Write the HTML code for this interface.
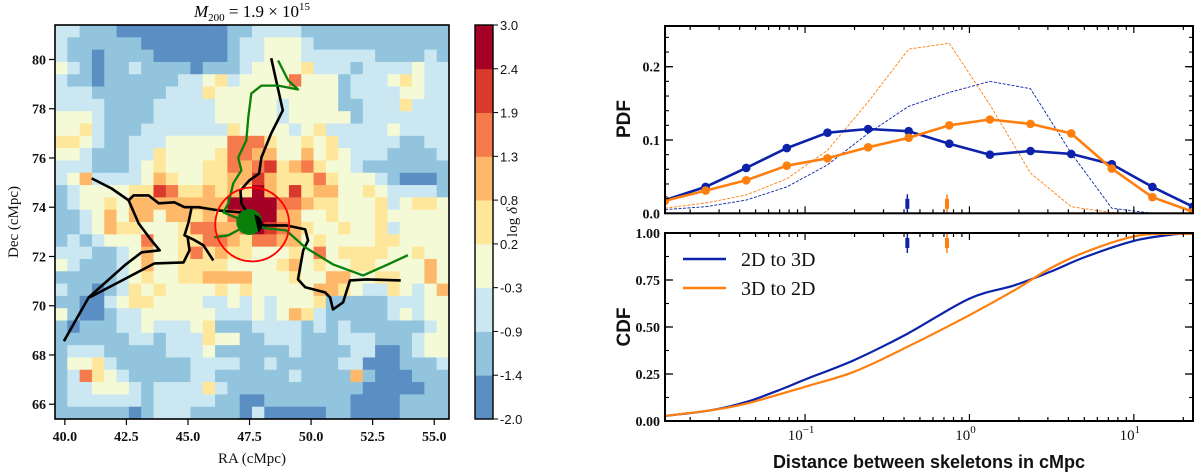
<!DOCTYPE html>
<html><head><meta charset="utf-8"><style>
html,body{margin:0;padding:0;background:#fff;}
svg{display:block;}
.tk{font-family:"Liberation Serif",serif;font-weight:bold;font-size:14px;fill:#111;}
.lab{font-family:"Liberation Serif",serif;font-size:15px;fill:#111;}
.sl{font-family:"Liberation Sans",sans-serif;font-weight:bold;fill:#111;}
</style></head><body>
<svg id="fig" width="1200" height="475" viewBox="0 0 1200 475" xmlns="http://www.w3.org/2000/svg">
<text x="252" y="463" text-anchor="middle" class="lab">RA (cMpc)</text>
<text x="0" y="0" transform="translate(18,222) rotate(-90)" text-anchor="middle" class="lab">Dec (cMpc)</text>
<text x="252" y="17" text-anchor="middle" style="font-family:'Liberation Serif',serif;font-size:17px;"><tspan font-style="italic">M</tspan><tspan font-size="11" dy="4">200</tspan><tspan dy="-4"> = 1.9 × 10</tspan><tspan font-size="11" dy="-7">15</tspan></text>
<text x="0" y="0" transform="translate(517,222) rotate(-90)" text-anchor="middle" class="lab">log <tspan font-style="italic">δ</tspan></text>
<g>
  <line x1="683" y1="259" x2="726" y2="259" stroke="#0b22a9" stroke-width="2.6"/>
  <text x="741" y="266" style="font-family:'Liberation Serif',serif;font-size:20px;fill:#111">2D to 3D</text>
  <line x1="683" y1="288" x2="726" y2="288" stroke="#ff7f0e" stroke-width="2.6"/>
  <text x="741" y="295" style="font-family:'Liberation Serif',serif;font-size:20px;fill:#111">3D to 2D</text>
</g>
<text x="0" y="0" transform="translate(630,119) rotate(-90)" text-anchor="middle" class="sl" font-size="19">PDF</text>
<text x="0" y="0" transform="translate(630,327) rotate(-90)" text-anchor="middle" class="sl" font-size="19">CDF</text>
<text x="929" y="468" text-anchor="middle" class="sl" font-size="18">Distance between skeletons in cMpc</text>
</svg>
<script>
// ---------- LEFT PANEL DATA ----------
const levelLabels = ["-2.0","-1.4","-0.9","-0.3","0.2","0.8","1.3","1.9","2.4","3.0"];
const levelColors = ["#5b8fc4","#92c4de","#cbe8f2","#f4fad6","#fee79a","#fdb86a","#f57a4c","#d93a2c","#a50026"];
const raTicks = [40,42.5,45,47.5,50,52.5,55];
const decTicks = [66,68,70,72,74,76,78,80];
const densityRows = [
"22111000000000112222111111111111",
"21111110000000122333211111111111",
"21101111000000122333222222111121",
"32101121111011123333422212222322",
"21101111112234233336333122234322",
"22211111122243333333333122223322",
"22221111222223333323333112224222",
"33321111222223333323333312222222",
"33421112222222433332342222232222",
"44321122233333666433434222221122",
"33211122433334665533534322211112",
"22211123433344656745643321111111",
"23522223543344557544464333210001",
"12333344764454548547455334322221",
"12334355555555888866544333423443",
"11235355355454688855334333433333",
"11235443334665568765433433423333",
"12123336334466546655343333443333",
"22211235334645443334363444433433",
"32111235334444333345343344333353",
"11111234334455553334335533443353",
"21101243433334343333355432243235",
"11002344333322323233341111122233",
"31001223333332223235421111123233",
"10111223222341112222121211111123",
"11111122122243311222111222111233",
"12221111122231111112111122001233",
"13342111111222211211111220001112",
"12643211111221111112111151000111",
"12233321222242111111111110000011",
"12222221222221100111111100001111",
"11111101222111102000001100001111"
];
const mapRA = [39.6, 55.6];
const mapDec = [65.4, 81.4];
const blackNorthRA = [48.38,48.85,48.38,47.98,47.89,47.49,47.13,47.17,47.45];
const blackNorthDec = [80.05,77.93,77.0,76.02,75.37,75.09,74.68,74.16,73.71];
const blackWestRA = [41.09,41.90,42.59,42.79,43.40,43.81,44.45,44.86,45.43,46.23,47.17];
const blackWestDec = [75.17,74.76,74.28,74.48,74.48,74.16,74.20,74.0,74.0,73.87,73.79];
const blackLoopRA = [42.59,43.0,43.52,43.85,43.12,42.43,40.97,39.96];
const blackLoopDec = [74.28,73.34,72.65,72.25,72.17,71.64,70.34,68.56];
const blackS2RA = [45.14,45.02,44.86,45.22,45.63,45.95,46.03];
const blackS2Dec = [73.95,73.38,72.86,72.69,72.45,71.96,71.84];
const blackS3RA = [44.98,45.06,44.82,43.64,41.01];
const blackS3Dec = [72.82,72.25,71.76,71.72,70.34];
const blackEastRA = [47.65,48.99,49.76,49.88,49.68,49.47,49.76,50.57,50.77,50.89,51.30,51.58,52.23,53.64];
const blackEastDec = [73.26,73.26,73.10,72.65,72.25,71.07,70.75,70.54,70.34,69.85,70.14,71.03,71.07,71.03];
const greenNorthRA = [48.66,49.07,49.47,48.66,47.98,47.57,47.45,47.37,47.04,47.17,46.84,46.64,46.44,47.45];
const greenNorthDec = [79.96,79.15,78.78,78.94,78.94,78.62,77.65,76.71,76.02,75.50,74.97,74.16,73.79,73.38];
const greenWestRA = [46.07,46.64,47.17,47.45];
const greenWestDec = [72.78,72.86,73.14,73.38];
const greenEastRA = [47.45,48.18,48.99,49.76,50.89,52.11,53.04,53.93];
const greenEastDec = [73.38,73.14,73.06,72.37,71.68,71.23,71.64,72.05];
const haloRA = [47.61], haloDec = [73.30], haloR = [1.5];

// ---------- RIGHT PANEL DATA ----------
const xLogMin = -1.852, xLogMax = 1.36;
const pdfBinsN = 14;
const pdfBlue = [0.018,0.036,0.062,0.089,0.110,0.115,0.112,0.095,0.080,0.085,0.081,0.067,0.036,0.009];
const pdfOrange = [0.017,0.031,0.045,0.065,0.075,0.090,0.103,0.120,0.128,0.122,0.109,0.061,0.022,0.002];
const pdfBlueThin = [0.005,0.009,0.018,0.036,0.066,0.109,0.146,0.165,0.180,0.170,0.082,0.007,0,0];
const pdfOrangeThin = [0.007,0.014,0.025,0.047,0.086,0.152,0.224,0.232,0.148,0.055,0.009,0.001,0,0];
const medianBlue = [0.419], medianOrange = [0.73];
const cdfBlueX = [0.0141,0.0272,0.0447,0.0736,0.1,0.199,0.421,1.0,1.88,3.09,5.08,10,17.7,22.9];
const cdfBlueY = [0.027,0.058,0.103,0.173,0.221,0.324,0.465,0.651,0.722,0.793,0.873,0.958,0.993,0.996];
const cdfOrangeX = [0.0141,0.0272,0.0447,0.1,0.199,0.421,1.0,1.88,3.09,5.08,10,16,22.9];
const cdfOrangeY = [0.027,0.058,0.094,0.182,0.262,0.395,0.563,0.696,0.811,0.899,0.982,0.996,0.996];
const pdfTicks = [0.0,0.1,0.2];
const pdfTickLabels = ["0.0","0.1","0.2"];
const cdfTicks = [0,0.25,0.5,0.75,1.0];
const cdfTickLabels = ["0.00","0.25","0.50","0.75","1.00"];
const xDecades = [-1,0,1];

const NS = "http://www.w3.org/2000/svg";
const svg = document.getElementById("fig");
function mk(tag, attrs, parent, text){
  const e = document.createElementNS(NS, tag);
  for (const k in attrs) e.setAttribute(k, attrs[k]);
  if (text !== undefined) e.textContent = text;
  (parent || svg).appendChild(e);
  return e;
}
// ---------- LEFT PANEL ----------
const MX0 = 55, MX1 = 449, MY0 = 25, MY1 = 419;
const raX = v => MX0 + (v - mapRA[0]) / (mapRA[1] - mapRA[0]) * (MX1 - MX0);
const decY = v => MY1 - (v - mapDec[0]) / (mapDec[1] - mapDec[0]) * (MY1 - MY0);
const gMap = mk("g", {});


const nR = densityRows.length;
densityRows.forEach((row, r) => {
  const nC = row.length;
  for (let c = 0; c < nC; c++) {
    const lv = +row[c];
    const x0 = MX0 + c * (MX1 - MX0) / nC, y0 = MY0 + r * (MY1 - MY0) / nR;
    const cell = mk("rect", {x: x0.toFixed(2), y: y0.toFixed(2), width: ((MX1-MX0)/nC + 0.4).toFixed(2), height: ((MY1-MY0)/nR + 0.4).toFixed(2), fill: levelColors[lv]}, gMap);
    
    
  }
});
function pathD(xs, ys, fx, fy){ return xs.map((v,i)=>(i?"L":"M")+fx(v).toFixed(1)+","+fy(ys[i]).toFixed(1)).join(""); }
const skel = [
  [blackNorthRA,blackNorthDec,"#000","black-skeleton-north"],
  [blackWestRA,blackWestDec,"#000","black-skeleton-west"],
  [blackLoopRA,blackLoopDec,"#000","black-skeleton-southwest"],
  [blackS2RA,blackS2Dec,"#000","black-skeleton-branch"],
  [blackS3RA,blackS3Dec,"#000","black-skeleton-branch-2"],
  [blackEastRA,blackEastDec,"#000","black-skeleton-east"],
  [greenNorthRA,greenNorthDec,"#0a800a","green-skeleton-north"],
  [greenWestRA,greenWestDec,"#0a800a","green-skeleton-west"],
  [greenEastRA,greenEastDec,"#0a800a","green-skeleton-east"]
];
skel.forEach(s => {
  const p = mk("path", {d: pathD(s[0], s[1], raX, decY), fill: "none", stroke: s[2], "stroke-width": s[2]==="#000"?2.6:2.3, "stroke-linejoin":"round"});
  
  
});
const pxPerRA = (MX1-MX0)/(mapRA[1]-mapRA[0]);
const blob = mk("circle", {cx: raX(haloRA[0]-0.12), cy: decY(haloDec[0]+0.1), r: 13, fill: "#0a800a"});


const blob2 = mk("path", {d: "M"+(raX(haloRA[0])+2)+","+(decY(haloDec[0])-10)+" a10,10 0 0 1 4,18 z", fill:"#000"});


const halo = mk("circle", {cx: raX(haloRA[0]), cy: decY(haloDec[0]), r: haloR[0]*pxPerRA, fill: "none", stroke: "#f00", "stroke-width": 1.8});


const mframe = mk("rect", {x: MX0, y: MY0, width: MX1-MX0, height: MY1-MY0, fill: "none", stroke: "#000", "stroke-width": 1.6});


raTicks.forEach(v => {
  const x = raX(v);
  mk("line", {x1:x, x2:x, y1:MY1, y2:MY1+6, stroke:"#000", "stroke-width":1.2});
  const t = mk("text", {x:x, y:MY1+22, "text-anchor":"middle", class:"tk"}, svg, v.toFixed(1));
  
  
});
decTicks.forEach(v => {
  const y = decY(v);
  mk("line", {x1:MX0-6, x2:MX0, y1:y, y2:y, stroke:"#000", "stroke-width":1.2});
  const t = mk("text", {x:MX0-9, y:y+5, "text-anchor":"end", class:"tk"}, svg, String(v));
  
  
});

// ---------- COLORBAR ----------
const CX0 = 475, CX1 = 493, CY0 = 25, CY1 = 419;
const nL = levelColors.length;
levelColors.forEach((col, i) => {
  const h = (CY1-CY0)/nL;
  const seg = mk("rect", {x:CX0, y:(CY1 - (i+1)*h).toFixed(2), width:CX1-CX0, height:(h+0.4).toFixed(2), fill:col});
  
  
});
mk("rect", {x:CX0, y:CY0, width:CX1-CX0, height:CY1-CY0, fill:"none", stroke:"#000", "stroke-width":1.4});
levelLabels.forEach((lab, i) => {
  const y = CY1 - i*(CY1-CY0)/nL;
  mk("line", {x1:CX1, x2:CX1+5, y1:y, y2:y, stroke:"#000", "stroke-width":1});
  const t = mk("text", {x:CX1+7, y:y+5, style:"font-family:'Liberation Sans',sans-serif;font-size:13px;fill:#111"}, svg, lab);
  
  
});

// ---------- RIGHT PANELS ----------
const RX0 = 665, RX1 = 1193;
const P = {y0:26, y1:213.3, ymax:(213.3-26)/733};
const C = {y0:233, y1:421, ymax:1};
const lx = v => RX0 + (Math.log10(v) - xLogMin)/(xLogMax - xLogMin)*(RX1-RX0);
const lxl = l => RX0 + (l - xLogMin)/(xLogMax - xLogMin)*(RX1-RX0);
const py = v => P.y1 - v/P.ymax*(P.y1-P.y0);
const cy = v => C.y1 - v/C.ymax*(C.y1-C.y0);
const BLUE = "#0b22a9", ORANGE = "#ff7f0e";
function clipRect(id, y0, y1){
  const cp = mk("clipPath", {id:id});
  mk("rect", {x:RX0, y:y0, width:RX1-RX0, height:y1-y0}, cp);
}
clipRect("clipP", P.y0, P.y1); clipRect("clipC", C.y0, C.y1);
function xTicks(y0, y1){
  for (let d = -2; d <= 1; d++) for (let m = 1; m <= 9; m++) {
    const l = d + Math.log10(m);
    if (l < xLogMin || l > xLogMax) continue;
    const x = lxl(l), len = m===1?7:4;
    mk("line", {x1:x, x2:x, y1:y1, y2:y1-len, stroke:"#000", "stroke-width":1.2});
    mk("line", {x1:x, x2:x, y1:y0, y2:y0+len, stroke:"#000", "stroke-width":1.2});
  }
}
function yTicks(y0, y1, sc, majors, labels, minorStep, maxV){
  for (let v = 0; v <= maxV + 1e-9; v += minorStep) {
    const y = sc(v);
    mk("line", {x1:RX0, x2:RX0+4, y1:y, y2:y, stroke:"#000", "stroke-width":1.1});
    mk("line", {x1:RX1, x2:RX1-4, y1:y, y2:y, stroke:"#000", "stroke-width":1.1});
  }
  majors.forEach((v,i) => {
    const y = sc(v);
    mk("line", {x1:RX0, x2:RX0+8, y1:y, y2:y, stroke:"#000", "stroke-width":1.3});
    mk("line", {x1:RX1, x2:RX1-8, y1:y, y2:y, stroke:"#000", "stroke-width":1.3});
    const t = mk("text", {x:RX0-5, y:y+5, "text-anchor":"end", class:"tk"}, svg, labels[i]);
    
    
  });
}
const binX = i => xLogMin + i*(xLogMax - xLogMin)/(pdfBinsN-1);
const gP = mk("g", {"clip-path":"url(#clipP)"});


function pdfLine(vals, col, thin, name){
  const d = vals.map((v,i)=>(i?"L":"M")+lxl(binX(i)).toFixed(1)+","+py(v).toFixed(1)).join("");
  const p = mk("path", {d:d, fill:"none", stroke:col, "stroke-width":thin?0.9:2.6, "stroke-dasharray":thin?"3,1.5":"none", "stroke-linejoin":"round"}, gP);
  
  
  if (!thin) vals.forEach((v,i) => {
    const c = mk("circle", {cx:lxl(binX(i)).toFixed(1), cy:py(v).toFixed(1), r:4.3, fill:col}, gP);
    
    
  });
}
pdfLine(pdfOrangeThin, ORANGE, true, "pdf-3d-to-2d-reference");
pdfLine(pdfBlueThin, BLUE, true, "pdf-2d-to-3d-reference");
pdfLine(pdfBlue, BLUE, false, "pdf-2d-to-3d");
pdfLine(pdfOrange, ORANGE, false, "pdf-3d-to-2d");
function medMark(v, col, y0, y1, name){
  const x = lx(v);
  const l = mk("line", {x1:x, x2:x, y1:y0, y2:y1, stroke:col, "stroke-width":1.5});
  
  
  mk("rect", {x:x-2, y:(y0+y1)/2-5, width:4, height:10, fill:col});
}
medMark(medianBlue[0], BLUE, P.y1-19, P.y1, "pdf-median-2d-to-3d");
medMark(medianOrange[0], ORANGE, P.y1-19, P.y1, "pdf-median-3d-to-2d");
const fP = mk("rect", {x:RX0, y:P.y0, width:RX1-RX0, height:P.y1-P.y0, fill:"none", stroke:"#000", "stroke-width":2});


xTicks(P.y0, P.y1);
yTicks(P.y0, P.y1, py, pdfTicks, pdfTickLabels, 0.02, P.ymax);

const gC = mk("g", {"clip-path":"url(#clipC)"});


function smooth(xs, ys){
  const pts = xs.map((v,i)=>[lx(v), cy(ys[i])]);
  let d = "M"+pts[0][0].toFixed(1)+","+pts[0][1].toFixed(1);
  for (let i=0;i<pts.length-1;i++){
    const p0 = pts[Math.max(0,i-1)], p1 = pts[i], p2 = pts[i+1], p3 = pts[Math.min(pts.length-1,i+2)];
    const c1 = [p1[0]+(p2[0]-p0[0])/6, p1[1]+(p2[1]-p0[1])/6];
    const c2 = [p2[0]-(p3[0]-p1[0])/6, p2[1]-(p3[1]-p1[1])/6];
    d += "C"+c1[0].toFixed(1)+","+c1[1].toFixed(1)+" "+c2[0].toFixed(1)+","+c2[1].toFixed(1)+" "+p2[0].toFixed(1)+","+p2[1].toFixed(1);
  }
  return d;
}
const cb = mk("path", {d:smooth(cdfBlueX, cdfBlueY), fill:"none", stroke:BLUE, "stroke-width":2.2}, gC);


const co = mk("path", {d:smooth(cdfOrangeX, cdfOrangeY), fill:"none", stroke:ORANGE, "stroke-width":2.2}, gC);


medMark(medianBlue[0], BLUE, C.y0, C.y0+20, "cdf-median-2d-to-3d");
medMark(medianOrange[0], ORANGE, C.y0, C.y0+20, "cdf-median-3d-to-2d");
const fC = mk("rect", {x:RX0, y:C.y0, width:RX1-RX0, height:C.y1-C.y0, fill:"none", stroke:"#000", "stroke-width":2});


xTicks(C.y0, C.y1);
yTicks(C.y0, C.y1, cy, cdfTicks, cdfTickLabels, 0.125, 1);
xDecades.forEach(d => {
  const x = lxl(d);
  const t = mk("text", {x:x-4, y:C.y1+19, "text-anchor":"middle", style:"font-family:'Liberation Serif',serif;font-size:15px;fill:#111"}, svg);
  
  
  mk("tspan", {}, t, "10");
  mk("tspan", {dy:-7, "font-size":"11"}, t, d<0 ? "−1" : String(d));
});
</script>
</body></html>
